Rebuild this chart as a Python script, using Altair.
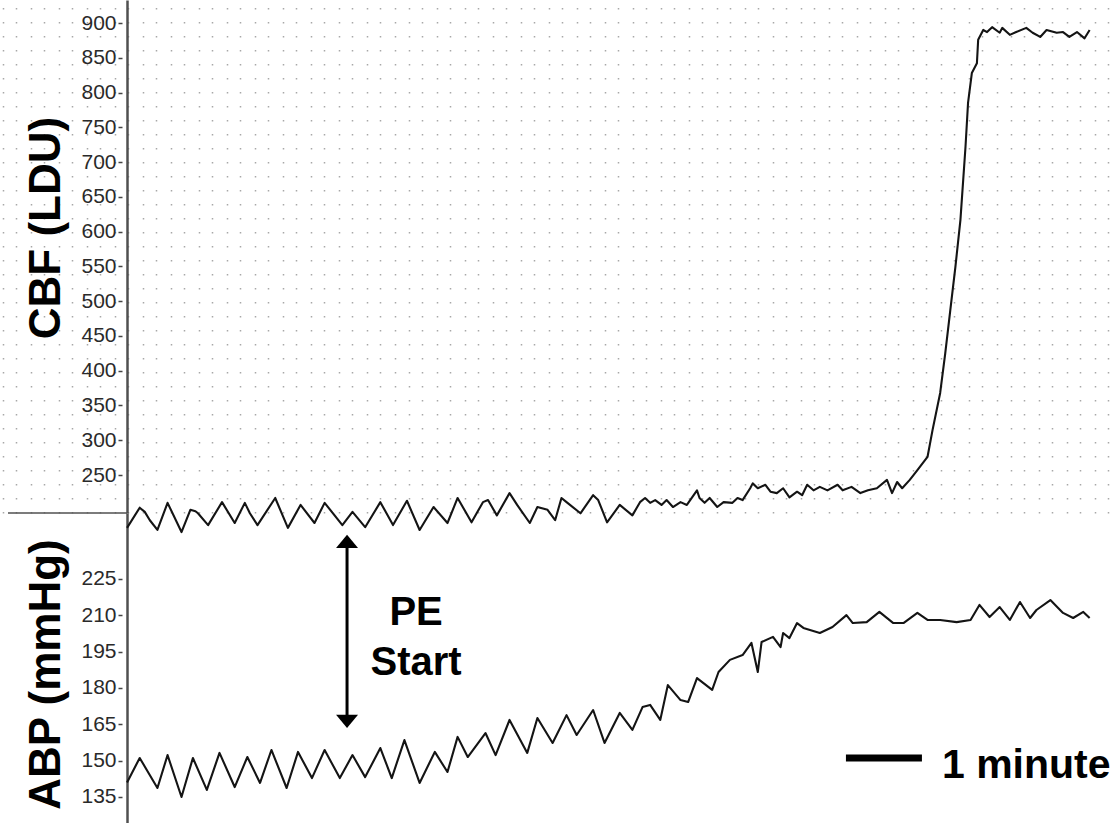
import altair as alt
import pandas as pd

FONT = "Liberation Sans"

# Cerebral blood flow, laser-Doppler units, against time in seconds
cbf_time = [0, 10, 14, 18, 24, 32, 43, 50, 54, 56, 64, 75, 85, 93, 97, 103, 117, 127, 137, 148,
            156, 170, 178, 188, 200, 210, 221, 231, 242, 253,
            261, 272, 281, 285, 292, 302, 308, 318, 324, 332, 338, 343, 347, 358, 368, 372, 379, 389, 399,
            405, 409, 413, 417, 422, 426, 431, 437, 442, 450, 452, 456, 460, 466, 471, 478, 482, 486, 492,
            494, 498, 504, 508, 513,
            518, 523, 529, 533, 537, 542, 547, 553, 561, 565, 572, 579, 585, 592, 600, 604, 608, 612, 618,
            624, 632, 636, 642, 646, 650, 654, 658, 662, 664, 667, 671, 672, 676,
            679, 683, 689, 691, 697, 702, 710, 715, 721, 726, 734, 739, 744, 750, 756, 760]
cbf_ldu = [174, 203, 197, 185, 171, 210, 168, 200, 198, 195, 178, 211, 181, 210, 195, 178, 217, 174, 207, 181,
           210, 178, 197, 175, 211, 178, 213, 171, 204, 181,
           217, 182, 211, 214, 192, 224, 207, 181, 204, 200, 185, 217, 211, 195, 221, 214, 182, 207, 192,
           211, 217, 210, 214, 207, 214, 204, 211, 207, 228, 217, 210, 217, 204, 211, 210, 217, 214, 231,
           238, 231, 236, 226, 224,
           231, 218, 226, 221, 236, 228, 233, 228, 236, 228, 233, 224, 228, 231, 243, 224, 240, 231, 243,
           257, 276, 315, 368, 425, 487, 549, 617, 722, 785, 828, 842, 876, 890,
           887, 894, 886, 893, 883, 887, 893, 886, 880, 890, 886, 887, 880, 887, 878, 890]

# Arterial blood pressure, mmHg, against time in seconds
abp_time = [0, 10, 17, 24, 32, 43, 52, 63, 73, 85, 95, 105, 114, 126, 135, 146, 156, 168, 178, 188,
            200, 209, 219, 231, 243, 253,
            261, 269, 283, 291, 302, 316, 324, 336, 347, 355, 368, 377, 389, 399, 407, 413, 421, 427, 437,
            443, 450, 462, 467, 476, 486, 493, 498, 501, 510, 516,
            518, 523, 529, 534, 547, 557, 568, 573, 584, 594, 605, 613, 624, 632, 642, 655, 666, 673, 681,
            689, 697, 705, 713, 718, 729, 739, 747, 755, 760]
abp_mmhg = [141, 151.1, 144.9, 138.7, 152.3, 135.0, 151.1, 137.9, 153.2, 139.1, 151.5, 140.8, 154.4, 138.7,
            153.6, 142.8, 154.4, 142.8, 152.3, 143.2, 155.2, 142.8, 158.5, 140.8, 153.6, 145.3,
            159.8, 151.5, 161.4, 152.3, 166.8, 153.2, 167.6, 157.3, 168.8, 160.6, 170.9, 157.3, 169.7, 162.7,
            172.1, 173.0, 166.8, 181.2, 175.0, 174.2, 184.1, 179.2, 186.6, 191.6, 193.6, 198.6, 186.6, 199.0,
            201.1, 196.9,
            202.7, 200.6, 206.8, 204.8, 202.7, 205.2, 210.1, 206.8, 207.2, 211.4, 206.8, 206.8, 211.0, 208.1,
            208.1, 207.2, 208.1, 214.3, 209.3, 213.4, 208.1, 215.5, 208.9, 212.2, 216.3, 211.0, 208.9, 211.4,
            208.9]

cbf_ticks = [250, 300, 350, 400, 450, 500, 550, 600, 650, 700, 750, 800, 850, 900]
abp_ticks = [135, 150, 165, 180, 195, 210, 225]

# PE start marker (time, ABP span) and its label
pe_marker = {"t": [173.7], "lo": [166.2], "hi": [240.5]}
pe_text = {"t": [228.2, 228.2], "y": [206.0, 185.4], "label": ["PE", "Start"]}

# one-minute scale bar
bar = {"t": [567.6], "t2": [627.6], "y": [151.1]}
bar_text = {"t": [643.4], "y": [142.8], "label": ["1 minute"]}

W, H = 1118, 823
T0, T1 = -100.3, 782.4
AXIS_X = 127

x_scale = alt.Scale(domain=[T0, T1], nice=False, zero=False)
cbf_scale = alt.Scale(domain=[195.4, 933.1], range=[513, 0], nice=False, zero=False)
abp_scale = alt.Scale(domain=[124.25, 252.25], range=[823, 513], nice=False, zero=False)

# dotted background: short dashes on vertical grid lines every 14 px
px = (T1 - T0) / W
grid_t = [round(T0 + (2.5 + 14 * k) * px, 3) for k in range(80)]

x_axis = alt.Axis(
    orient="top", values=grid_t, grid=True, gridColor="#a8a8a8", gridOpacity=1,
    gridDash=[1.5, 12.5], gridWidth=1.5, labels=False, ticks=False,
    domain=False, title="",
)


def xt(field="t"):
    return alt.X(f"{field}:Q", scale=x_scale, axis=x_axis)


axis_style = dict(
    orient="left", offset=-AXIS_X,
    domainColor="#505050", domainWidth=2.5,
    tickColor="#444444", tickSize=9, tickWidth=1.5, tickDash=[0, 5, 4, 10],
    labelFont=FONT, labelFontSize=21, labelColor="#2a2a2a", labelPadding=2,
    labelOverlap=False, labelFlush=False,
    titleFont=FONT, titleFontSize=44, titleFontWeight="bold", titleColor="black",
    titleAngle=270, titleAlign="center", titleBaseline="alphabetic", titleX=-68,
    grid=False,
)

cbf_df = pd.DataFrame({"t": cbf_time, "v": cbf_ldu})
abp_df = pd.DataFrame({"t": abp_time, "v": abp_mmhg})

cbf_line = alt.Chart(cbf_df).mark_line(color="#141414", strokeWidth=2.1, strokeJoin="round").encode(
    x=xt(),
    y=alt.Y("v:Q", scale=cbf_scale, axis=alt.Axis(
        values=cbf_ticks, title="CBF (LDU)", titleY=227.5, **axis_style)),
)

abp_line = alt.Chart(abp_df).mark_line(color="#141414", strokeWidth=2.1, strokeJoin="round").encode(
    x=xt(),
    y=alt.Y("v:Q", scale=abp_scale, axis=alt.Axis(
        values=abp_ticks, title="ABP (mmHg)", titleY=674, **axis_style)),
)

# short divider between the two traces, left of the axis
divider = alt.Chart(pd.DataFrame({"k": [0]})).mark_rule(
    color="#505050", strokeWidth=1.5).encode(
    x=alt.value(8), x2=alt.value(AXIS_X), y=alt.value(513))

pe_df = pd.DataFrame(pe_marker)
arrow_shaft = alt.Chart(pe_df).mark_rule(color="black", strokeWidth=3).encode(
    x=xt(),
    y=alt.Y("lo:Q", scale=abp_scale, axis=None),
    y2="hi:Q",
)
head_up = alt.Chart(pe_df).mark_point(
    shape="M-1,0.6L0,-0.6L1,0.6Z", size=484, filled=True, color="black", opacity=1, strokeWidth=0
).encode(
    x=xt(),
    y=alt.Y("hi:Q", scale=abp_scale, axis=None),
)
head_down = alt.Chart(pe_df).mark_point(
    shape="M-1,-0.6L0,0.6L1,-0.6Z", size=484, filled=True, color="black", opacity=1, strokeWidth=0
).encode(
    x=xt(),
    y=alt.Y("lo:Q", scale=abp_scale, axis=None),
)
pe_label = alt.Chart(pd.DataFrame(pe_text)).mark_text(
    font=FONT, fontSize=40, fontWeight="bold", color="black", align="center", baseline="alphabetic"
).encode(
    x=xt(),
    y=alt.Y("y:Q", scale=abp_scale, axis=None),
    text="label:N",
)

bar_rule = alt.Chart(pd.DataFrame(bar)).mark_rule(color="black", strokeWidth=7, strokeCap="butt").encode(
    x=xt(),
    x2="t2:Q",
    y=alt.Y("y:Q", scale=abp_scale, axis=None),
)
bar_label = alt.Chart(pd.DataFrame(bar_text)).mark_text(
    font=FONT, fontSize=41, fontWeight="bold", color="black", align="left", baseline="alphabetic"
).encode(
    x=xt(),
    y=alt.Y("y:Q", scale=abp_scale, axis=None),
    text="label:N",
)

chart = alt.layer(
    cbf_line, abp_line, divider, arrow_shaft, head_up, head_down, pe_label, bar_rule, bar_label
).resolve_scale(y="independent").properties(
    width=W, height=H, padding=0, autosize=alt.AutoSizeParams(type="none"),
    background="white",
).configure_view(strokeWidth=0)

chart.save("out.html", embed_options={"renderer": "svg", "actions": False})
